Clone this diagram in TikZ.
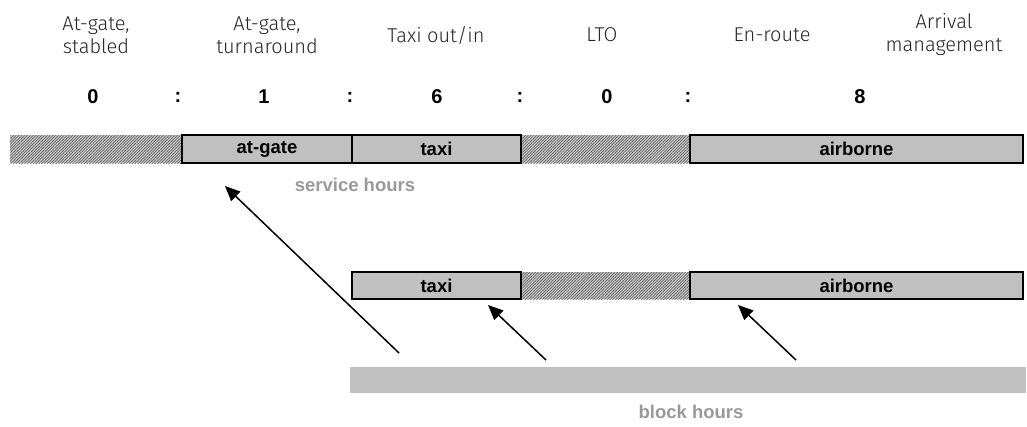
\documentclass[tikz,border=0pt]{standalone}
\usepackage{fontspec}
\setmainfont{Liberation Sans}
\IfFontExistsTF{Fira Sans Light}{\newfontfamily\lightfont{Fira Sans Light}}{\newfontfamily\lightfont{Liberation Sans}}
\usetikzlibrary{patterns.meta,arrows.meta}
\definecolor{boxgray}{RGB}{192,192,192}
\definecolor{labelgray}{RGB}{153,153,153}
\definecolor{hatchbg}{RGB}{205,205,205}
\definecolor{hatchline}{RGB}{95,95,95}
\tikzset{
  hdr/.style={font=\lightfont\fontsize{20}{23}\selectfont, align=center, text=black!85, inner sep=0pt},
  num/.style={font=\bfseries\fontsize{20}{22}\selectfont, inner sep=0pt},
  segbox/.style={draw=black, line width=2pt, fill=boxgray, inner sep=0pt,
    font=\bfseries\fontsize{18.5}{20}\selectfont},
  hatchbox/.style={inner sep=0pt, draw=none,
    preaction={fill=hatchbg},
    pattern={Lines[angle=45,distance=2pt,line width=0.7pt]}, pattern color=hatchline},
  hourlabel/.style={font=\bfseries\fontsize{18.5}{20}\selectfont, text=labelgray, inner sep=0pt},
  pointer/.style={line width=1.5pt, -{Triangle[length=15pt,width=13pt]}}
}
\begin{document}
\begin{tikzpicture}[x=1pt,y=-1pt]
\useasboundingbox (0,0) rectangle (1027,426);
% header
\node[hdr] (h1) at (96,35) {At-gate,\\stabled};
\node[hdr] (h2) at (267,35) {At-gate,\\turnaround};
\node[hdr] (h3) at (436,35) {Taxi out/in};
\node[hdr] (h4) at (602,35) {LTO};
\node[hdr] (h5) at (772,35) {En-route};
\node[hdr] (h6) at (944,35) {Arrival\\management};
% ratio
\node[num] (n1) at (93,97) {0};
\node[num] (c1) at (178,97) {:};
\node[num] (n2) at (264,97) {1};
\node[num] (c2) at (350,97) {:};
\node[num] (n3) at (437,97) {6};
\node[num] (c3) at (520,97) {:};
\node[num] (n4) at (607,97) {0};
\node[num] (c4) at (688,97) {:};
\node[num] (n5) at (860,97) {8};
% service bar
\node[hatchbox, minimum width=172pt, minimum height=28pt] (s1) at (96,149) {};
\node[hatchbox, minimum width=169pt, minimum height=28pt] (s4) at (605.5,149) {};
\node[segbox, minimum width=170pt, minimum height=28pt] (s2) at (267,149) {at-gate};
\node[segbox, minimum width=169pt, minimum height=28pt] (s3) at (436.5,149) {taxi};
\node[segbox, minimum width=333pt, minimum height=28pt] (s5) at (856.5,149) {airborne};
\node[hourlabel] (svc) at (355,185) {service hours};
% second bar
\node[hatchbox, minimum width=169pt, minimum height=27pt] (b2) at (605.5,285.5) {};
\node[segbox, minimum width=169pt, minimum height=27pt] (b1) at (436.5,285.5) {taxi};
\node[segbox, minimum width=333pt, minimum height=27pt] (b3) at (856.5,285.5) {airborne};
% block bar
\node[fill=boxgray, inner sep=0pt, minimum width=676pt, minimum height=26pt] (blk) at (688,380) {};
\node[hourlabel] (blkl) at (691,412) {block hours};
% arrows
\coordinate (a1t) at (399,353);
\coordinate (a1h) at (225,186);
\coordinate (a2t) at (546,360);
\coordinate (a2h) at (488,305);
\coordinate (a3t) at (796,360);
\coordinate (a3h) at (738,305);
\draw[pointer] (a1t) -- (a1h);
\draw[pointer] (a2t) -- (a2h);
\draw[pointer] (a3t) -- (a3h);
\end{tikzpicture}
\end{document}
